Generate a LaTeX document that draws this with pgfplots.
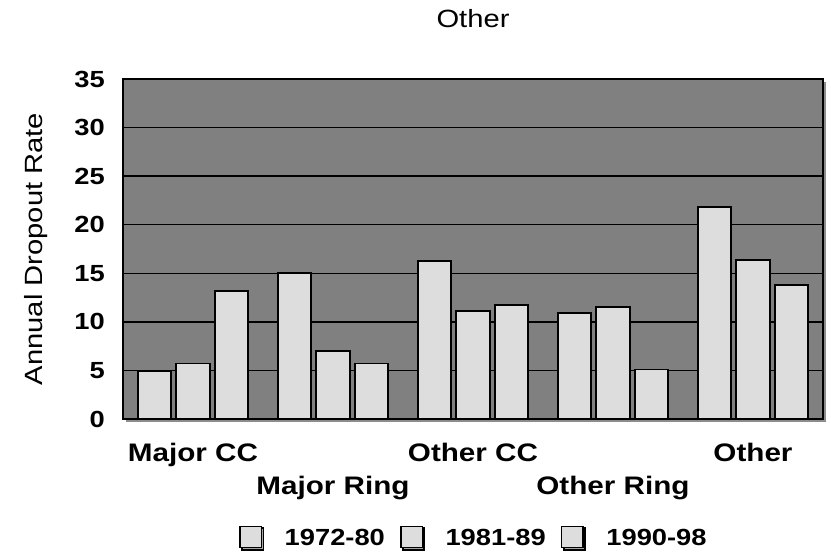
\documentclass[border=0pt]{standalone}
\usepackage{fontspec}
\setmainfont{Liberation Sans}[FakeStretch=1.17]
\usepackage{pgfplots}
\pgfplotsset{compat=1.18}
\usetikzlibrary{shadows}
\definecolor{bggray}{HTML}{808080}
\definecolor{barfill}{HTML}{DDDDDD}
\begin{document}
\begin{tikzpicture}
\begin{axis}[name=ax, scale only axis, width=525pt, height=255pt,
  ymin=0, ymax=35, ytick={0,5,...,35},
  xmin=-0.5, xmax=4.5, xtick={0,2,4},
  xticklabels={Major CC,Other CC,Other},
  extra x ticks={1,3},
  extra x tick labels={Major Ring,Other Ring},
  extra x tick style={grid=none, xticklabel style={yshift=-24.75pt}},
  /pgf/number format/assume math mode=true,
  axis background/.style={fill=bggray, drop shadow={shadow xshift=2.5pt, shadow yshift=-2.5pt, fill=black!45, opacity=1}},
  axis line style={line width=1.4pt},
  ymajorgrids, grid style={black, line width=1pt},
  major tick length=0pt,
  ybar=3.9pt, bar width=25pt,
  barstyle/.style={fill=barfill, draw=black, line width=1.3pt},
  yticklabel style={font=\fontsize{17.5}{20}\selectfont\bfseries, inner sep=0pt, xshift=-13.5pt},
  xticklabel style={font=\fontsize{19}{22}\selectfont\bfseries, inner sep=0pt, anchor=north, yshift=-18pt},
  title={Other}, title style={font=\fontsize{18.7}{22}\selectfont, at={(axis description cs:0.5,1)}, anchor=center, yshift=39pt},
  ylabel={Annual Dropout Rate}, ylabel style={font=\fontsize{18.7}{22}\selectfont, at={(axis description cs:-0.1243,0.5)}, anchor=center},
  legend columns=3,
  legend style={at={(axis description cs:0.5,-0.347)}, anchor=center, draw=none, fill=none, font=\fontsize{17.5}{20}\selectfont\bfseries,
    nodes={inner sep=0pt},
    /tikz/every even column/.append style={column sep=11.5pt},
    /tikz/every odd column/.append style={column sep=17pt}},
  legend image code/.code={\draw[fill=barfill, draw=black, line width=1pt, drop shadow={shadow xshift=1.5pt, shadow yshift=-1.5pt, fill=black!35, opacity=1}] (0pt,-7pt) rectangle (16pt,9pt);},
]
\addplot[barstyle] coordinates {(0,4.9) (1,15.0) (2,16.3) (3,10.9) (4,21.8)};
\addplot[barstyle] coordinates {(0,5.7) (1,7.0) (2,11.1) (3,11.5) (4,16.4)};
\addplot[barstyle] coordinates {(0,13.2) (1,5.7) (2,11.7) (3,5.1) (4,13.8)};
\legend{1972-80,1981-89,1990-98}
\end{axis}
\pgfresetboundingbox
\path ([shift={(-92.25pt,-102pt)}]ax.south west) rectangle ([shift={(6pt,59.25pt)}]ax.north east);
\end{tikzpicture}
\end{document}
